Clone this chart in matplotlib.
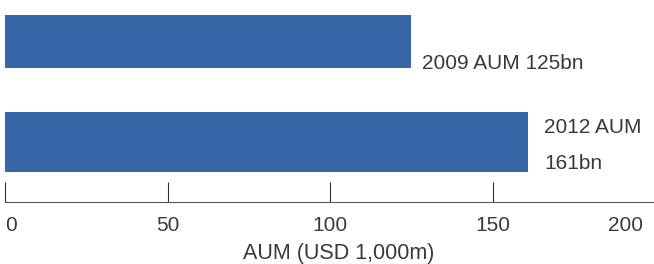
import matplotlib.pyplot as plt
from matplotlib.transforms import ScaledTranslation

plt.rcParams['font.family'] = ['Liberation Sans', 'DejaVu Sans']

years = ['2009', '2012']
aum = [125, 161]
bar_labels = ['2009 AUM 125bn', '2012 AUM\n161bn']
ticks = [0, 50, 100, 150, 200]
tick_labels = ['0', '50', '100', '150', '200']

bar_color = '#3665a8'
text_color = '#3a3a3a'

fig = plt.figure(figsize=(6.54, 2.64), dpi=100)
ax = fig.add_axes([5 / 654, 62 / 264, 650 / 654, 202 / 264])

ypos = list(range(len(years)))
ax.barh(ypos, aum, height=[0.53, 0.60], color=bar_color)

# label offsets (points) next to each bar end, last baseline
offsets = [(7.7, -19.3), (11.5, -19.6)]
for y, v, lab, off in zip(ypos, aum, bar_labels, offsets):
    ax.annotate(lab, xy=(v, y), xytext=off, textcoords='offset points',
                ha='left', va='baseline', fontsize=15, color=text_color,
                linespacing=2.12)

ax.set_xlim(0, 200)
ax.set_ylim(1.60, -0.417)
ax.set_yticks([])
ax.set_xticks(ticks)
ax.set_xticklabels(tick_labels)
ax.tick_params(axis='x', direction='in', length=14.4, width=0.8,
               color='#333333', pad=10, labelsize=15, labelcolor=text_color)

lbls = ax.get_xticklabels()
lbls[0].set_ha('left')
lbls[-1].set_ha('right')
lbls[-1].set_transform(lbls[-1].get_transform() +
                       ScaledTranslation(-12 / 100, 0, fig.dpi_scale_trans))

for s in ['top', 'right', 'left']:
    ax.spines[s].set_visible(False)
ax.spines['bottom'].set_color('#555555')
ax.spines['bottom'].set_linewidth(0.8)

ax.set_xlabel('AUM (USD 1,000m)', fontsize=15.5, color=text_color)
ax.xaxis.set_label_coords(0.514, -0.205)

fig.savefig('out.png', dpi=100)
